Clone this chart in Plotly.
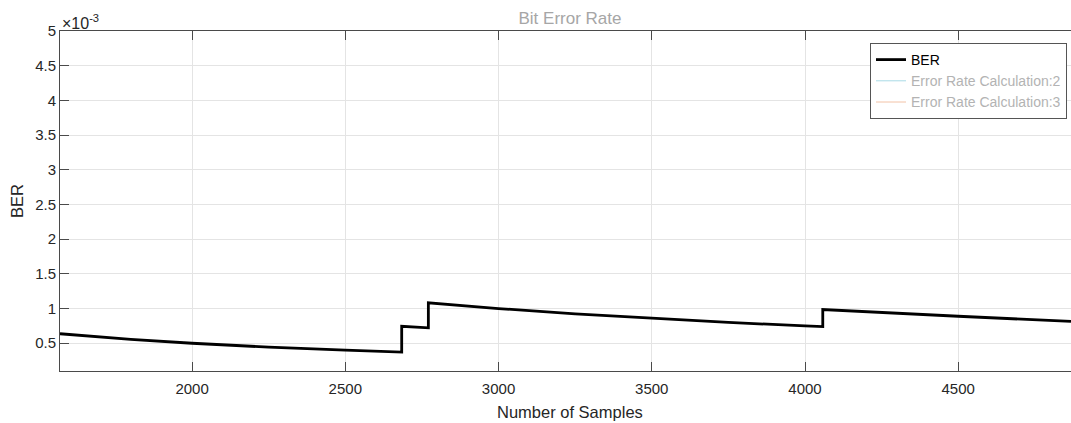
import plotly.graph_objects as go

# Sample index and running bit error rate (BER values in units of 1e-3)
samples = [1569, 1800, 2000, 2250, 2500, 2684, 2684, 2771, 2771, 3000, 3250,
           3500, 3750, 4000, 4058, 4058, 4250, 4500, 4868]
ber_e3 = [0.637, 0.556, 0.500, 0.444, 0.400, 0.373, 0.745, 0.722, 1.083, 1.000,
          0.923, 0.857, 0.800, 0.750, 0.739, 0.986, 0.941, 0.889, 0.815]

# Other outputs of the error rate block: error count and samples compared
error_count = [1, 1, 1, 1, 1, 1, 2, 2, 3, 3, 3, 3, 3, 3, 3, 4, 4, 4, 4]
compared = samples

ytick_vals_e3 = [0.5, 1, 1.5, 2, 2.5, 3, 3.5, 4, 4.5, 5]
ytick_text = ["0.5", "1", "1.5", "2", "2.5", "3", "3.5", "4", "4.5", "5"]
xtick_vals = [2000, 2500, 3000, 3500, 4000, 4500]

SCALE = 1e-3
ber = [v * SCALE for v in ber_e3]

W, H = 1071, 423
ML, MR, MT, MB = 60, 0, 31, 52
FONT = "Liberation Sans, Arial, Helvetica, sans-serif"
AX = "#4a4a4a"
TXT = "#262626"

fig = go.Figure()
fig.add_trace(go.Scatter(x=samples, y=ber, mode="lines", name="BER",
                         line=dict(color="black", width=2.8)))
fig.add_trace(go.Scatter(x=samples, y=error_count, mode="lines",
                         name="<span style='color:#b3b3b3'>Error Rate Calculation:2</span>",
                         line=dict(color="#a9dbe6", width=1)))
fig.add_trace(go.Scatter(x=samples, y=compared, mode="lines",
                         name="<span style='color:#b3b3b3'>Error Rate Calculation:3</span>",
                         line=dict(color="#f2c2a6", width=1)))

fig.update_layout(
    width=W, height=H,
    margin=dict(l=ML, r=MR, t=MT, b=MB, pad=0),
    paper_bgcolor="white", plot_bgcolor="white",
    font=dict(family=FONT, size=15, color=TXT),
    showlegend=True,
    legend=dict(x=(870 - ML) / (W - ML - MR), y=(H - MB - 43) / (H - MB - MT),
                xanchor="left", yanchor="top",
                bgcolor="white", bordercolor="#555555", borderwidth=1,
                font=dict(family=FONT, size=14, color="black"),
                itemwidth=30, tracegroupgap=0),
    title=dict(text="Bit Error Rate", xref="container", x=570 / W,
               xanchor="center", yref="container", y=1 - 18.5 / H, yanchor="middle",
               font=dict(family=FONT, size=17, color="#a6a6a6")),
)

fig.update_xaxes(
    range=[1569, 4868], tickvals=xtick_vals,
    showgrid=True, gridcolor="#e4e4e4", gridwidth=1, zeroline=False,
    showline=True, linecolor=AX, linewidth=1, mirror="ticks",
    ticks="inside", ticklen=9, tickcolor=AX, tickwidth=1, ticklabelstandoff=4,
    tickfont=dict(family=FONT, size=15, color=TXT),
)
fig.update_yaxes(
    range=[0.1 * SCALE, 5 * SCALE],
    tickvals=[v * SCALE for v in ytick_vals_e3], ticktext=ytick_text,
    showgrid=True, gridcolor="#e4e4e4", gridwidth=1, zeroline=False,
    showline=True, linecolor=AX, linewidth=1, mirror=False,
    ticks="inside", ticklen=9, tickcolor=AX, tickwidth=1,
    tickfont=dict(family=FONT, size=15, color=TXT),
)

plot_w = W - ML - MR
fig.add_annotation(text="Number of Samples", xref="paper", yref="paper",
                   x=(570 - ML) / plot_w, y=0, xanchor="center", yanchor="middle",
                   yshift=-41, showarrow=False,
                   font=dict(family=FONT, size=16.5, color=TXT))
fig.add_annotation(text="BER", xref="paper", yref="paper", x=0, y=0.5,
                   xshift=-43, xanchor="center", yanchor="middle", textangle=-90,
                   showarrow=False, font=dict(family=FONT, size=16.5, color=TXT))
fig.add_annotation(text="×10<sup>-3</sup>", xref="paper", yref="paper", x=0, y=1,
                   xanchor="left", yanchor="bottom", xshift=0, yshift=-3,
                   showarrow=False, font=dict(family=FONT, size=16, color=TXT))

fig.write_html("out.html")
